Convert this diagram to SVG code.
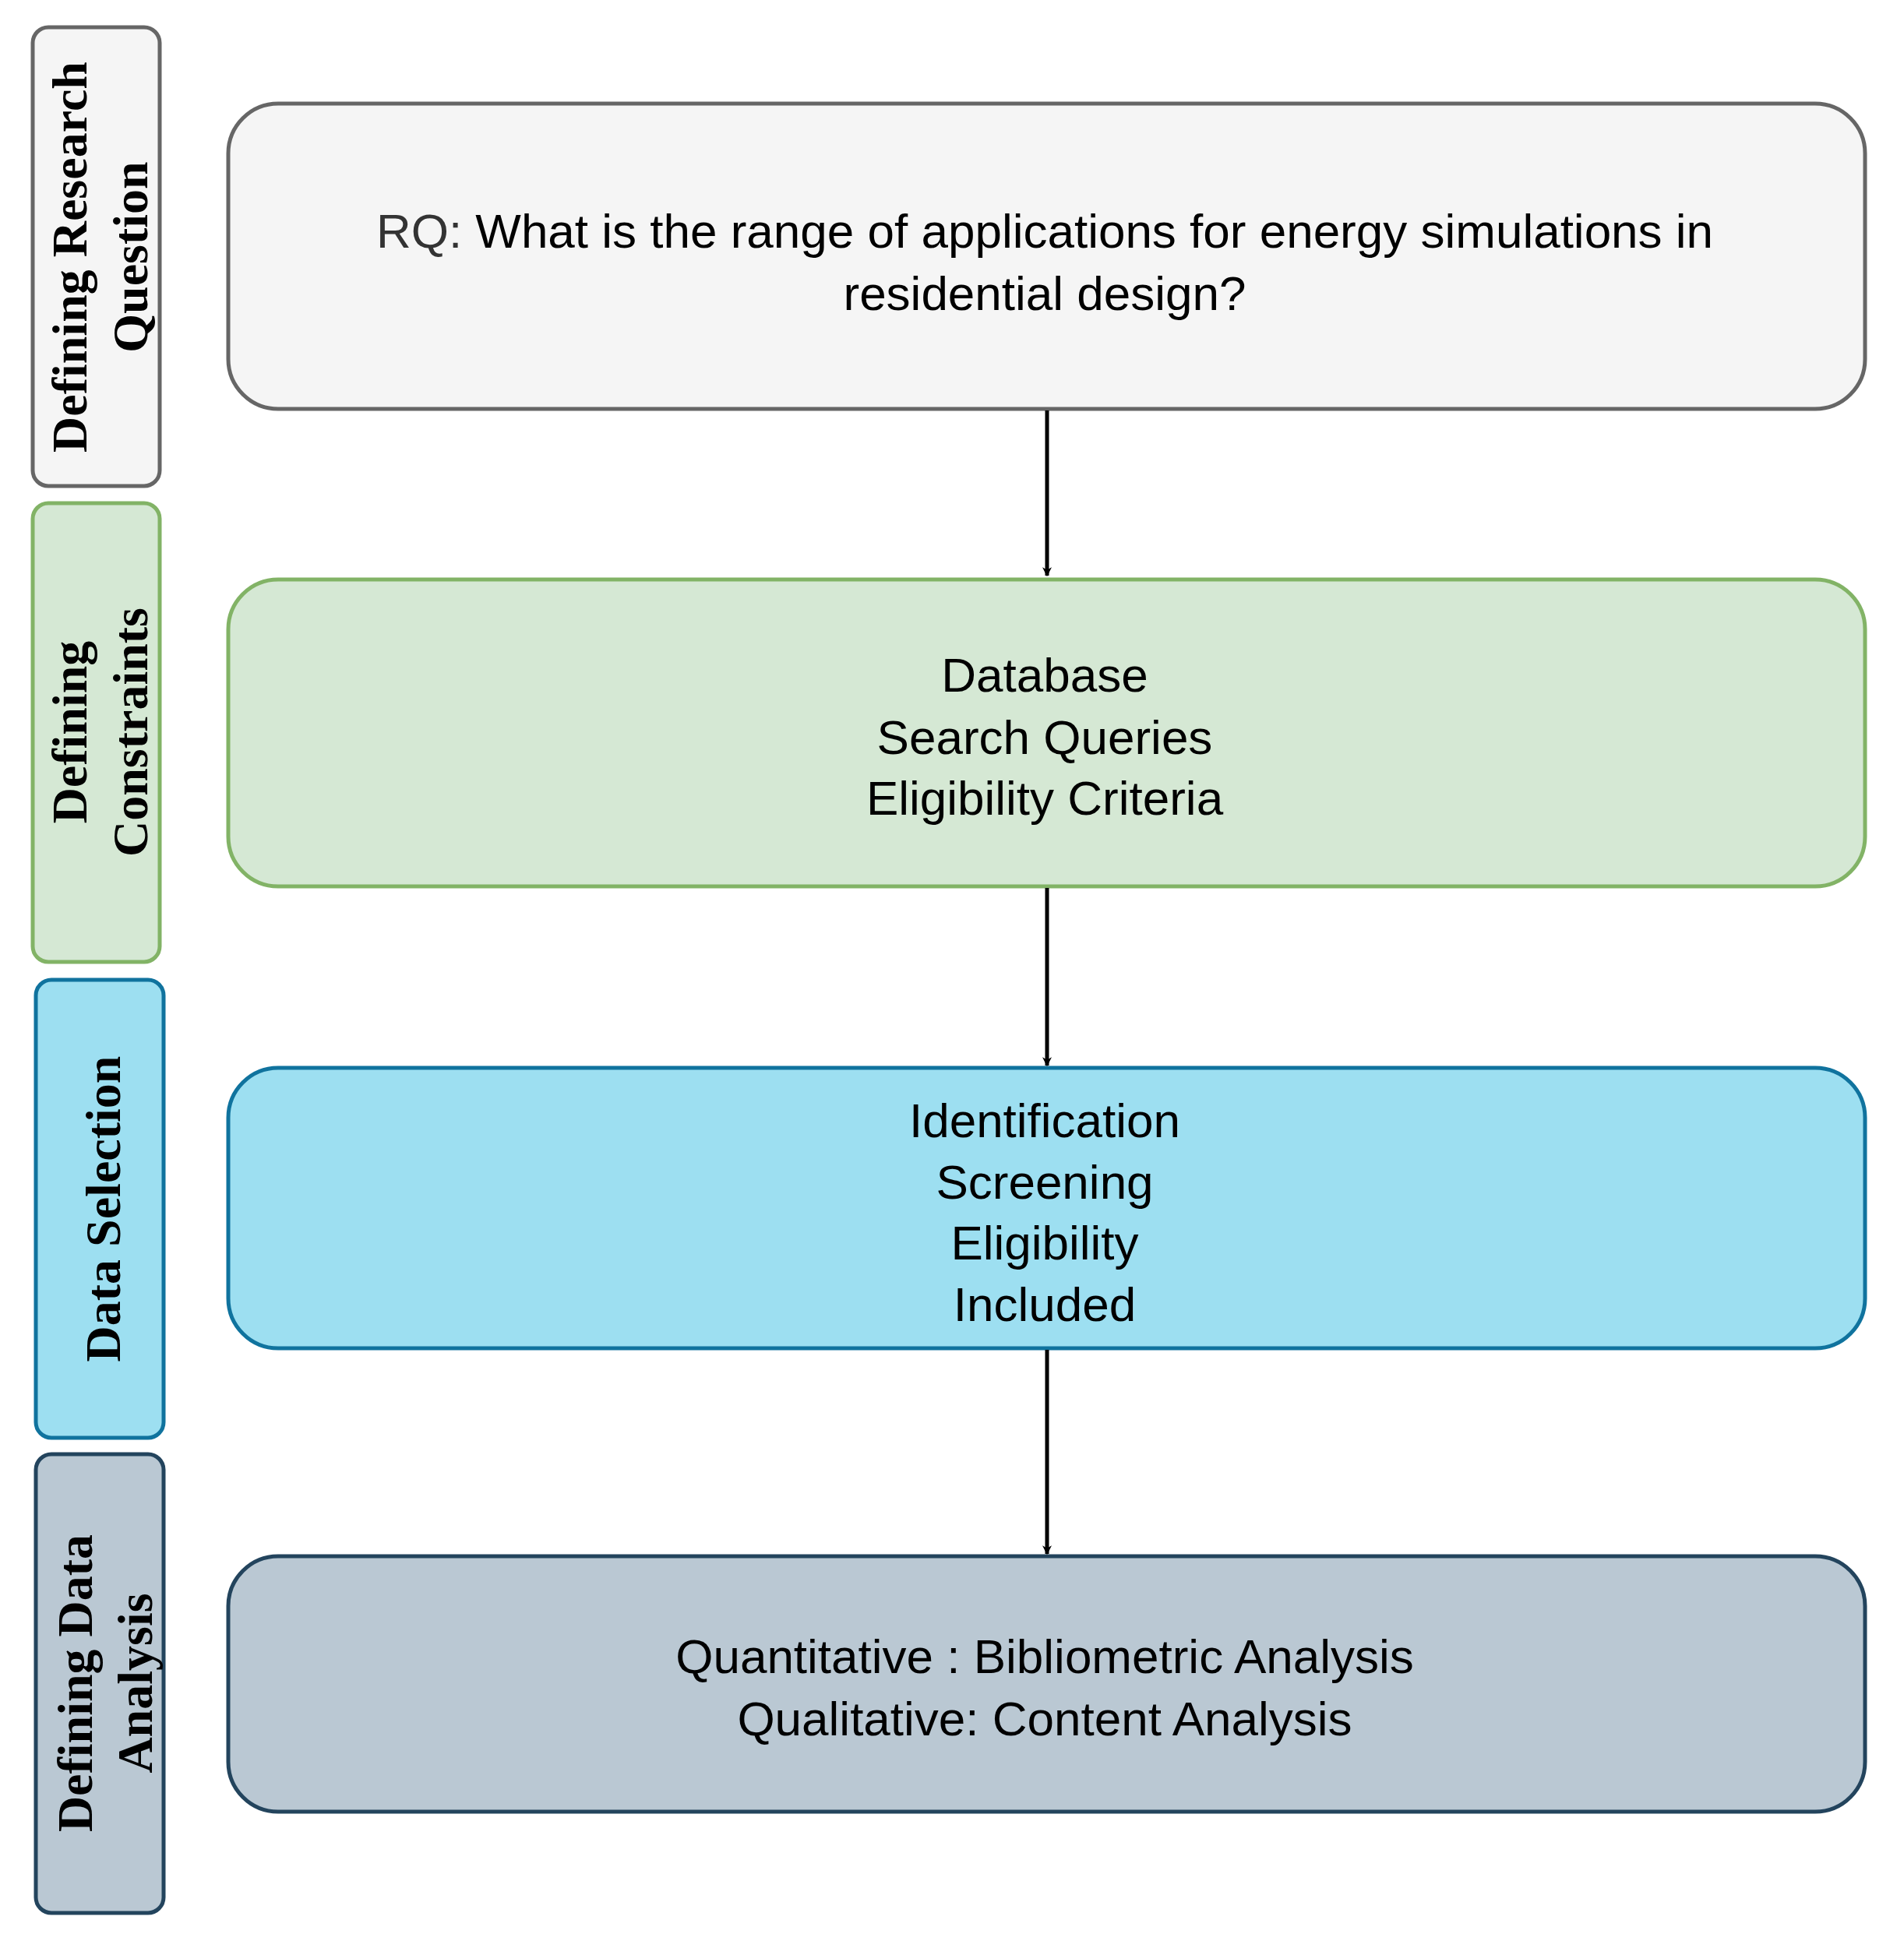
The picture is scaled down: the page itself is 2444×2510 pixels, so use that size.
<svg xmlns="http://www.w3.org/2000/svg" width="2444" height="2510" viewBox="0 0 2444 2510">
<style>
.m{font-family:"Liberation Sans",Arial,sans-serif;font-size:62px;fill:#000;text-anchor:middle}
.s{font-family:"Liberation Serif","Times New Roman",serif;font-size:64px;font-weight:bold;fill:#000;text-anchor:middle}
.b{stroke-width:5}
</style>
<defs><marker id="ah" viewBox="0 0 10 10" refX="9" refY="5" markerWidth="12" markerHeight="12" markerUnits="userSpaceOnUse" orient="auto"><path d="M0,0 L10,5 L0,10 L3,5 Z" fill="#000"/></marker></defs>
<rect width="2444" height="2510" fill="#fff"/>
<g id="side1"><rect class="b" x="42" y="35" width="163" height="589" rx="20" fill="#f5f5f5" stroke="#666"/>
<g transform="translate(123,330) rotate(-90)"><text class="s" y="-12">Defining Research</text><text class="s" y="66">Question</text></g></g>
<g id="side2"><rect class="b" x="42" y="646" width="163" height="589" rx="20" fill="#d5e8d4" stroke="#82b366"/>
<g transform="translate(123,940) rotate(-90)"><text class="s" y="-12">Defining</text><text class="s" y="66">Constraints</text></g></g>
<g id="side3"><rect class="b" x="46" y="1258" width="164" height="588" rx="20" fill="#9ddff1" stroke="#10739e"/>
<g transform="translate(128,1552) rotate(-90)"><text class="s" y="26">Data Selection</text></g></g>
<g id="side4"><rect class="b" x="46" y="1867" width="164" height="589" rx="20" fill="#bac8d3" stroke="#23445d"/>
<g transform="translate(128,2161) rotate(-90)"><text class="s" y="-10">Defining Data</text><text class="s" y="67">Analysis</text></g></g>
<g id="box1"><rect class="b" x="293" y="133" width="2101" height="392" rx="64" fill="#f5f5f5" stroke="#666"/>
<text class="m" x="1341" y="318"><tspan fill="#333">RQ: </tspan>What is the range of applications for energy simulations in</text><text class="m" x="1341" y="398">residential design?</text></g>
<g id="box2"><rect class="b" x="293" y="744" width="2101" height="394" rx="64" fill="#d5e8d4" stroke="#82b366"/>
<text class="m" x="1341" y="888">Database</text><text class="m" x="1341" y="968">Search Queries</text><text class="m" x="1341" y="1046">Eligibility Criteria</text></g>
<g id="box3"><rect class="b" x="293" y="1371" width="2101" height="360" rx="64" fill="#9ddff1" stroke="#10739e"/>
<text class="m" x="1341" y="1460">Identification</text><text class="m" x="1341" y="1539">Screening</text><text class="m" x="1341" y="1617">Eligibility</text><text class="m" x="1341" y="1696">Included</text></g>
<g id="box4"><rect class="b" x="293" y="1998" width="2101" height="328" rx="64" fill="#bac8d3" stroke="#23445d"/>
<text class="m" x="1341" y="2148">Quantitative : Bibliometric Analysis</text><text class="m" x="1341" y="2228">Qualitative: Content Analysis</text></g>
<g id="connectors" stroke="#000" stroke-width="5" fill="none">
<line x1="1344" y1="527" x2="1344" y2="739" marker-end="url(#ah)"/>
<line x1="1344" y1="1140" x2="1344" y2="1368" marker-end="url(#ah)"/>
<line x1="1344" y1="1733" x2="1344" y2="1995" marker-end="url(#ah)"/>
</g>
</svg>
